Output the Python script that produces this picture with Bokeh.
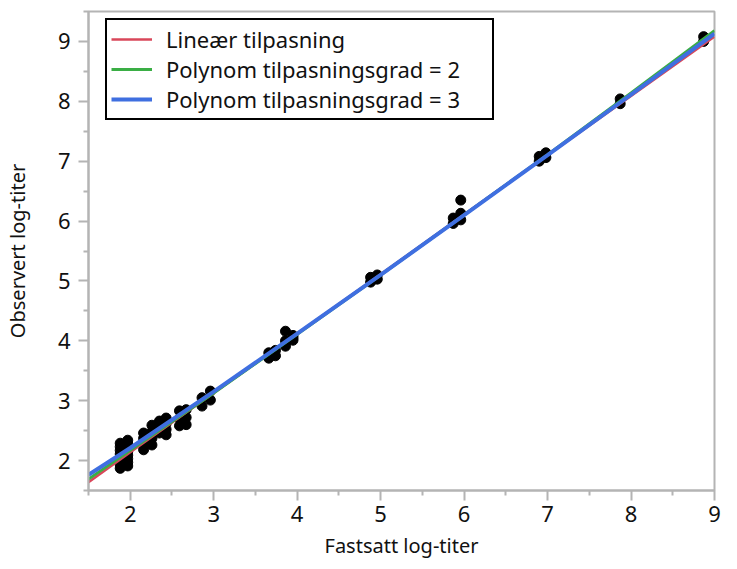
from bokeh.plotting import figure
from bokeh.models import Range1d, FixedTicker, Legend, LegendItem
from bokeh.embed import file_html
from bokeh.resources import INLINE

# ---- data ----
obs_x = ([1.88] * 8 + [1.97] * 8 + [2.16] * 4 + [2.26] * 4 + [2.35] * 3 + [2.43] * 4 +
         [2.59] * 3 + [2.67] * 3 + [2.86] * 2 + [2.96] * 2 + [3.66] * 2 + [3.74] * 2 +
         [3.86] * 3 + [3.95] * 3 + [4.88] * 2 + [4.96] * 2 + [5.87] * 2 + [5.96] * 3 +
         [6.90] * 2 + [6.98] * 2 + [7.87] * 2 + [8.87] * 2)
obs_y = ([1.87, 1.93, 1.99, 2.05, 2.11, 2.17, 2.23, 2.29] +
         [1.91, 1.97, 2.03, 2.09, 2.15, 2.22, 2.28, 2.34] +
         [2.18, 2.27, 2.37, 2.46] +
         [2.26, 2.37, 2.48, 2.59] +
         [2.46, 2.56, 2.66] +
         [2.43, 2.52, 2.62, 2.71] +
         [2.58, 2.70, 2.83] +
         [2.60, 2.72, 2.85] +
         [2.91, 3.05] +
         [3.01, 3.16] +
         [3.71, 3.80] +
         [3.75, 3.84] +
         [3.91, 4.00, 4.16] +
         [4.01, 4.05, 4.09] +
         [4.98, 5.06] +
         [5.03, 5.10] +
         [5.96, 6.05] +
         [6.02, 6.13, 6.35] +
         [7.00, 7.08] +
         [7.06, 7.14] +
         [7.96, 8.04] +
         [9.00, 9.08])

fit_x = [1.5, 2, 3, 4, 5, 6, 7, 8, 9]
fit_linear = [1.64, 2.14, 3.13, 4.12, 5.11, 6.11, 7.10, 8.09, 9.08]
fit_quad = [1.69, 2.17, 3.13, 4.11, 5.10, 6.10, 7.11, 8.14, 9.18]
fit_cubic = [1.76, 2.21, 3.15, 4.12, 5.10, 6.10, 7.10, 8.11, 9.13]

x_major = [2, 3, 4, 5, 6, 7, 8, 9]
x_minor = [1.5, 2.5, 3.5, 4.5, 5.5, 6.5, 7.5, 8.5]
y_major = [2, 3, 4, 5, 6, 7, 8, 9]
y_minor = [1.5, 2.5, 3.5, 4.5, 5.5, 6.5, 7.5, 8.5, 9.5]

labels = ["Lineær tilpasning", "Polynom tilpasningsgrad = 2", "Polynom tilpasningsgrad = 3"]
colors = ["#d9475a", "#3aae45", "#3f6fe0"]

FONT = "Noto Sans"
AXIS_GRAY = "#b4b4b4"

p = figure(width=721, height=561, output_backend="svg", toolbar_location=None,
           x_range=Range1d(1.5, 9), y_range=Range1d(1.5, 9.5),
           min_border_left=82, min_border_right=7, min_border_top=11, min_border_bottom=66)
p.grid.visible = False
p.outline_line_color = AXIS_GRAY
p.outline_line_width = 2
p.background_fill_color = "white"
p.border_fill_color = "white"

p.scatter(obs_x, obs_y, size=10, color="black")

r1 = p.line(fit_x, fit_linear, line_color=colors[0], line_width=2.5)
r2 = p.line(fit_x, fit_quad, line_color=colors[1], line_width=3)
r3 = p.line(fit_x, fit_cubic, line_color=colors[2], line_width=4)

p.xaxis.ticker = FixedTicker(ticks=x_major, minor_ticks=x_minor)
p.yaxis.ticker = FixedTicker(ticks=y_major, minor_ticks=y_minor)
p.xaxis.axis_label = "Fastsatt log-titer"
p.yaxis.axis_label = "Observert log-titer"
for ax in (p.xaxis, p.yaxis):
    ax.axis_line_color = AXIS_GRAY
    ax.axis_line_width = 2
    ax.major_tick_line_color = AXIS_GRAY
    ax.major_tick_line_width = 2
    ax.minor_tick_line_color = AXIS_GRAY
    ax.minor_tick_line_width = 2
    ax.major_tick_out = 10
    ax.major_tick_in = 0
    ax.minor_tick_out = 5
    ax.minor_tick_in = 0
    ax.major_label_text_font = FONT
    ax.major_label_text_font_size = "22px"
    ax.major_label_text_color = "#111111"
    ax.axis_label_text_font = FONT
    ax.axis_label_text_font_size = "20px"
    ax.axis_label_text_font_style = "normal"
    ax.axis_label_text_color = "#111111"
p.xaxis.major_label_standoff = 5
p.yaxis.major_label_standoff = 8
p.xaxis.axis_label_standoff = 7
p.yaxis.axis_label_standoff = 24

legend = Legend(items=[LegendItem(label=labels[0], renderers=[r1]),
                       LegendItem(label=labels[1], renderers=[r2]),
                       LegendItem(label=labels[2], renderers=[r3])],
                location=(17, 370))
legend.label_text_font = FONT
legend.label_text_font_size = "22px"
legend.label_text_color = "#111111"
legend.glyph_width = 41
legend.glyph_height = 20
legend.label_height = 20
legend.label_width = 322
legend.spacing = 0
legend.padding = 4
legend.label_standoff = 14
legend.border_line_color = "black"
legend.border_line_width = 2
legend.border_line_alpha = 1
legend.background_fill_color = "white"
legend.background_fill_alpha = 1
p.add_layout(legend)

open("out.html", "w").write(file_html(p, INLINE))
